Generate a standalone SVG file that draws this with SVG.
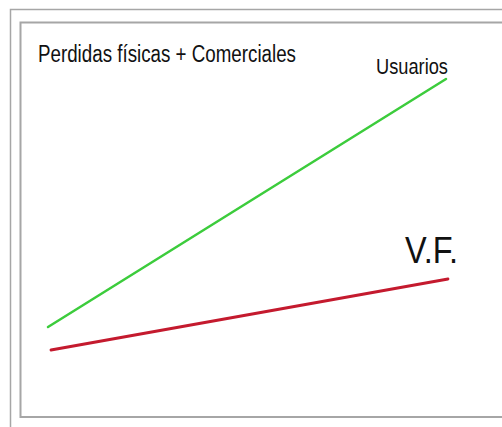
<svg xmlns="http://www.w3.org/2000/svg" width="502" height="427" viewBox="0 0 502 427">
  <style>
    .frame { fill: none; stroke: #a6a6a6; }
    .lbl { font-family: "Liberation Sans", Arial, sans-serif; fill: #111; }
  </style>
  <rect x="0" y="0" width="502" height="427" fill="#ffffff"/>
  <g id="frames">
    <rect class="frame" x="10.5" y="9.5" width="520" height="440" stroke-width="1.5"/>
    <rect class="frame" x="20.5" y="22.5" width="520" height="394.5" stroke-width="2"/>
  </g>
  <g id="connectors">
    <line id="usuarios-line" x1="48" y1="327" x2="446" y2="79" stroke="#3ccc3c" stroke-width="2.5" stroke-linecap="round"/>
    <line id="vf-line" x1="51" y1="350" x2="448" y2="279" stroke="#c41a2e" stroke-width="2.8" stroke-linecap="round"/>
  </g>
  <g id="title">
    <text class="lbl" x="38" y="62" font-size="23" textLength="258" lengthAdjust="spacingAndGlyphs">Perdidas físicas + Comerciales</text>
  </g>
  <g id="usuarios">
    <text class="lbl" x="376" y="74" font-size="22" textLength="72" lengthAdjust="spacingAndGlyphs">Usuarios</text>
  </g>
  <g id="vf">
    <text class="lbl" x="405" y="263" font-size="37" textLength="53" lengthAdjust="spacingAndGlyphs">V.F.</text>
  </g>
</svg>
